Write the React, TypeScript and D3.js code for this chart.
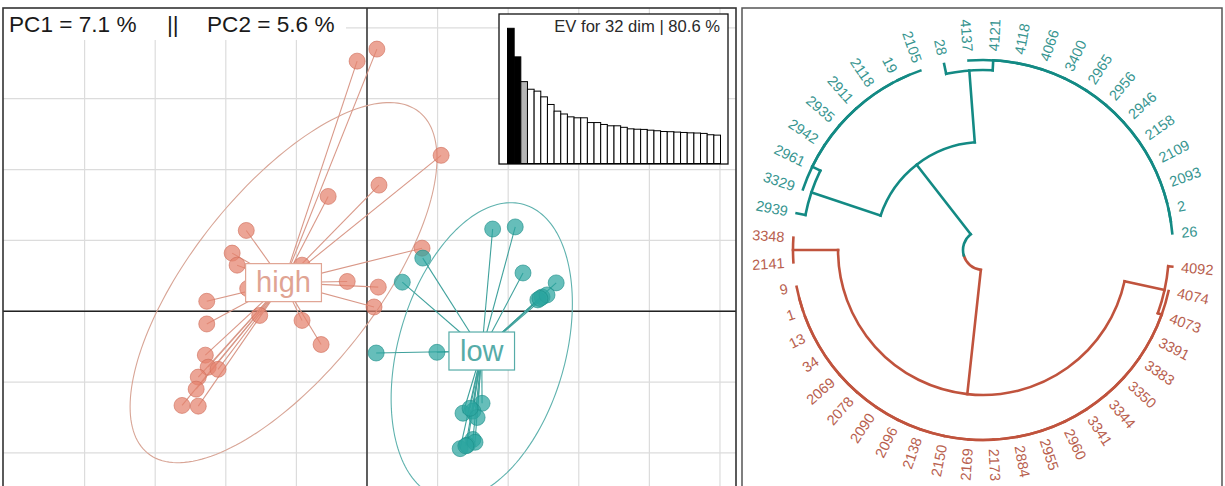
import React, { useEffect, useRef } from "react";
import * as d3 from "d3";

// ---- PCA scores (PC1, PC2) per group
const highX = [-0.14, 0.14, 1.05, 0.17, -0.55, -1.71, -1.91, -1.84, -0.92, -0.28, -1.69, -2.27, -2.27, -1.52, -0.92, -0.65, -2.29, -2.25, -2.11, -2.39, -2.42, -2.62, -2.39, 0.78, 0.16, 0.1];
const highY = [3.53, 3.7, 2.2, 1.78, 1.62, 1.14, 0.82, 0.65, 0.65, 0.42, 0.32, 0.14, -0.18, -0.06, -0.13, -0.47, -0.62, -0.79, -0.82, -0.93, -1.1, -1.33, -1.34, 0.89, 0.34, 0.06];
const lowX = [1.78, 2.1, 0.79, 0.5, 2.21, 2.68, 2.48, 2.42, 2.55, 0.13, 0.99, 1.63, 1.36, 1.5, 1.56, 1.5, 1.32, 1.42, 1.53, 1.46, 1.4, 2.45];
const lowY = [1.16, 1.19, 0.75, 0.41, 0.54, 0.4, 0.2, 0.16, 0.23, -0.59, -0.58, -1.3, -1.44, -1.41, -1.5, -1.81, -1.94, -1.89, -1.85, -1.37, -1.9, 0.18];
const groupNames = ["high", "low"];

// eigenvalues in % (screeplot inset)
const eigenPct = [7.1, 5.6, 4.3, 3.9, 3.8, 3.5, 3.1, 2.75, 2.6, 2.45, 2.4, 2.4, 2.15, 2.15, 2.05, 1.98, 1.98, 1.9, 1.82, 1.8, 1.79, 1.75, 1.72, 1.68, 1.67, 1.65, 1.63, 1.61, 1.6, 1.58, 1.51, 1.49];
const pcTitle = ["PC1 = 7.1 %", "||", "PC2 = 5.6 %"];
const evTitle = "EV for 32 dim | 80.6 %";

// ---- dendrogram leaves, clockwise starting just below 3 o'clock
const redTip = "4092";
const redChain = ["4074", "4073", "3391", "3383", "3350", "3344", "3341", "2960", "2955", "2884", "2173", "2169", "2150", "2138", "2096", "2090", "2078", "2069", "34", "13", "1", "9"];
const redPair = ["2141", "3348"];
const tealTip = "2939";
const tealChainA = ["3329", "2961", "2942", "2935", "2911", "2118", "19", "2105"];
const tealTip2 = "28";
const tealChainB = ["4137", "4121", "4118", "4066", "3400", "2965", "2956", "2946", "2158", "2109", "2093", "2", "26"];
// merge heights
const hRoot = 1;
const hRed = 0.265;
const hTeal = 0.482;
const hTealA = 0.053;
const hTealB = 0.059;
const hRedTip = 0.024;

const RED = "#C0533D";
const TEAL = "#138A84";
const FONT = "'Liberation Sans', Arial, sans-serif";

type TNode = { name?: string; h: number; children?: TNode[]; x?: number; group?: string };

const leaf = (name: string): TNode => ({ name, h: 0 });
const join = (h: number, a: TNode, b: TNode): TNode => ({ h, children: [a, b] });
const ladder = (names: string[]): TNode =>
  names.length === 1 ? leaf(names[0]) : join(0, leaf(names[0]), ladder(names.slice(1)));

function drawScatter(svg: any) {
  const x = d3.scaleLinear().domain([-5.156, 5.227]).range([3, 736]);
  const y = d3.scaleLinear().domain([4.28, -3.06]).range([8, 528]);
  const [x0, x1] = x.range();
  const [y0, y1] = y.range();

  svg.append("clipPath").attr("id", "pclip")
    .append("rect").attr("x", x0).attr("y", y0).attr("width", x1 - x0).attr("height", y1 - y0);
  const g = svg.append("g").attr("clip-path", "url(#pclip)");

  g.append("rect").attr("x", x0).attr("y", y0).attr("width", x1 - x0).attr("height", y1 - y0).attr("fill", "#fff");

  // grid
  g.selectAll(".vg").data(d3.range(-4, 6)).enter().append("line")
    .attr("x1", (d: number) => x(d)).attr("x2", (d: number) => x(d))
    .attr("y1", y0).attr("y2", y1)
    .attr("stroke", "#dcdcdc").attr("stroke-width", 1.2);
  g.selectAll(".hg").data(d3.range(-3, 5)).enter().append("line")
    .attr("y1", (d: number) => y(d)).attr("y2", (d: number) => y(d))
    .attr("x1", x0).attr("x2", x1)
    .attr("stroke", "#dcdcdc").attr("stroke-width", 1.2);

  // axes through origin
  g.append("line").attr("x1", x(0)).attr("x2", x(0)).attr("y1", y0).attr("y2", y1).attr("stroke", "#222").attr("stroke-width", 1.4);
  g.append("line").attr("y1", y(0)).attr("y2", y(0)).attr("x1", x0).attr("x2", x1).attr("stroke", "#222").attr("stroke-width", 1.4);

  const groups = [
    { name: groupNames[0], xs: highX, ys: highY, fill: "#E4826E", stroke: "#CF6B57", line: "#D99888", ell: "#D8A596", lab: "#E0A493" },
    { name: groupNames[1], xs: lowX, ys: lowY, fill: "#2BA59F", stroke: "#1C8E88", line: "#3FA19C", ell: "#5FB2AE", lab: "#56ACA8" },
  ];

  const cellipse = 1.95;
  groups.forEach((gr) => {
    const n = gr.xs.length;
    const mx = d3.mean(gr.xs) as number;
    const my = d3.mean(gr.ys) as number;
    const vx = d3.sum(gr.xs, (v: number) => (v - mx) ** 2) / n;
    const vy = d3.sum(gr.ys, (v: number) => (v - my) ** 2) / n;
    const cxy = d3.sum(gr.xs.map((v, i) => (v - mx) * (gr.ys[i] - my))) / n;
    const tr = vx + vy;
    const det = vx * vy - cxy * cxy;
    const disc = Math.sqrt(Math.max(tr * tr / 4 - det, 0));
    const l1 = tr / 2 + disc;
    const l2 = Math.max(tr / 2 - disc, 0);
    let ux = cxy, uy = l1 - vx;
    if (Math.abs(ux) + Math.abs(uy) < 1e-9) { ux = 1; uy = 0; }
    const un = Math.hypot(ux, uy);
    ux /= un; uy /= un;
    const ts = d3.range(0, 2 * Math.PI, Math.PI / 90);
    const pts = ts.map((t) => {
      const a = cellipse * Math.sqrt(l1) * Math.cos(t);
      const b = cellipse * Math.sqrt(l2) * Math.sin(t);
      return [x(mx + a * ux - b * uy), y(my + a * uy + b * ux)] as [number, number];
    });
    g.append("path").attr("d", d3.line().curve(d3.curveLinearClosed)(pts))
      .attr("fill", "none").attr("stroke", gr.ell).attr("stroke-width", 1.1);

    (gr as any).cx = mx;
    (gr as any).cy = my;
  });

  groups.forEach((gr: any) => {
    g.selectAll(null).data(gr.xs).enter().append("line")
      .attr("x1", x(gr.cx)).attr("y1", y(gr.cy))
      .attr("x2", (d: number) => x(d)).attr("y2", (_: number, i: number) => y(gr.ys[i]))
      .attr("stroke", gr.line).attr("stroke-width", 1.1);
  });

  groups.forEach((gr: any) => {
    g.selectAll(null).data(gr.xs).enter().append("circle")
      .attr("cx", (d: number) => x(d)).attr("cy", (_: number, i: number) => y(gr.ys[i]))
      .attr("r", 8)
      .attr("fill", gr.fill).attr("fill-opacity", 0.72)
      .attr("stroke", gr.stroke).attr("stroke-opacity", 0.6).attr("stroke-width", 1);
  });

  groups.forEach((gr: any) => {
    const lg = g.append("g").attr("transform", `translate(${x(gr.cx)},${y(gr.cy)})`);
    const t = lg.append("text").text(gr.name)
      .attr("text-anchor", "middle").attr("dy", "0.33em")
      .attr("font-family", FONT).attr("font-size", 29).attr("fill", gr.lab);
    const bb = (t.node() as SVGTextElement).getBBox();
    lg.insert("rect", "text")
      .attr("x", -bb.width / 2 - 10.5).attr("y", -19)
      .attr("width", bb.width + 21).attr("height", 38)
      .attr("fill", "#fff").attr("stroke", gr.lab).attr("stroke-width", 1.2);
  });

  // title box
  svg.append("rect").attr("x", x0).attr("y", y0).attr("width", 343).attr("height", 32).attr("fill", "#fff");
  const titleX = [9, 167, 207];
  svg.selectAll(".pct").data(pcTitle).enter().append("text")
    .attr("x", (_: string, i: number) => titleX[i]).attr("y", 32)
    .attr("font-family", FONT).attr("font-size", 22.6).attr("fill", "#1a1a1a")
    .text((d: string) => d);

  // screeplot inset
  const ib = { x0: 499, x1: 728, y0: 14, y1: 164 };
  svg.append("rect").attr("x", ib.x0).attr("y", ib.y0).attr("width", ib.x1 - ib.x0).attr("height", ib.y1 - ib.y0)
    .attr("fill", "#fff").attr("stroke", "#111").attr("stroke-width", 1.3);
  const xb = d3.scaleBand<number>().domain(d3.range(eigenPct.length)).range([507.5, 720.5]).padding(0);
  const yb = d3.scaleLinear().domain([0, d3.max(eigenPct) as number]).range([163.5, 28.3]);
  svg.selectAll(".bar").data(eigenPct).enter().append("rect")
    .attr("x", (_: number, i: number) => xb(i) as number)
    .attr("width", xb.bandwidth())
    .attr("y", (d: number) => yb(d))
    .attr("height", (d: number) => yb(0) - yb(d))
    .attr("fill", (_: number, i: number) => (i < 2 ? "#000" : i < 3 ? "#b5b5b5" : "#fff"))
    .attr("stroke", "#000").attr("stroke-width", 1);
  svg.append("text").attr("x", 720).attr("y", 31.5).attr("text-anchor", "end")
    .attr("font-family", FONT).attr("font-size", 16.6).attr("fill", "#2a2a2a").text(evTitle);

  svg.append("rect").attr("x", x0).attr("y", y0).attr("width", x1 - x0).attr("height", y1 - y0)
    .attr("fill", "none").attr("stroke", "#333").attr("stroke-width", 1.6);
}

function drawDendro(svg: any) {
  const cx = 983, cy = 250;
  const red = join(hRed, join(hRedTip, leaf(redTip), ladder(redChain)), join(0, leaf(redPair[0]), leaf(redPair[1])));
  const teal = join(hTeal, join(hTealA, leaf(tealTip), ladder(tealChainA)), join(hTealB, leaf(tealTip2), ladder(tealChainB)));
  red.group = RED;
  teal.group = TEAL;
  const root = join(hRoot, red, teal);

  const leaves: TNode[] = [];
  const layout = (nd: TNode, group?: string) => {
    if (group) nd.group = group;
    if (!nd.children) { nd.x = leaves.length; leaves.push(nd); return; }
    nd.children.forEach((c) => layout(c, nd.group));
    nd.x = d3.mean(nd.children, (c) => c.x) as number;
  };
  layout(root);

  const theta = d3.scaleLinear().domain([0, leaves.length - 1]).range([95, 445]);
  const rad = d3.scaleLinear().domain([0, hRoot]).range([190, 20]);
  const pt = (r: number, deg: number) => {
    const a = (deg * Math.PI) / 180;
    return [cx + r * Math.sin(a), cy - r * Math.cos(a)];
  };
  const arcPath = (r: number, d0: number, d1: number) => {
    const p = d3.path();
    const a0 = ((d0 - 90) * Math.PI) / 180;
    const a1 = ((d1 - 90) * Math.PI) / 180;
    p.moveTo(cx + r * Math.cos(a0), cy + r * Math.sin(a0));
    p.arc(cx, cy, r, a0, a1, a1 < a0);
    return p.toString();
  };

  const g = svg.append("g").attr("fill", "none").attr("stroke-width", 2.6).attr("stroke-linecap", "square");
  const walk = (nd: TNode) => {
    if (!nd.children) return;
    const r = rad(nd.h);
    const [c0, c1] = nd.children;
    if (nd === root) {
      g.append("path").attr("d", arcPath(r, theta(c0.x!), theta(nd.x!))).attr("stroke", c0.group);
      g.append("path").attr("d", arcPath(r, theta(nd.x!), theta(c1.x!))).attr("stroke", c1.group);
    } else {
      g.append("path").attr("d", arcPath(r, theta(c0.x!), theta(c1.x!))).attr("stroke", nd.group);
    }
    nd.children.forEach((c) => {
      const rc = rad(c.h);
      if (Math.abs(rc - r) > 0.01) {
        const p0 = pt(r, theta(c.x!));
        const p1 = pt(rc, theta(c.x!));
        g.append("line").attr("x1", p0[0]).attr("y1", p0[1]).attr("x2", p1[0]).attr("y2", p1[1]).attr("stroke", c.group);
      }
      walk(c);
    });
  };
  walk(root);

  const labelR = 199;
  svg.selectAll(".leaf").data(leaves).enter().append("text")
    .attr("transform", (d: TNode) => {
      const t = theta(d.x!) % 360;
      const [px, py] = pt(labelR, t);
      const rot = t < 180 ? t - 90 : t - 270;
      return `translate(${px},${py}) rotate(${rot})`;
    })
    .attr("text-anchor", (d: TNode) => (theta(d.x!) % 360 < 180 ? "start" : "end"))
    .attr("dy", "0.35em")
    .attr("font-family", FONT).attr("font-size", 14.5)
    .attr("fill", (d: TNode) => (d.group === RED ? "#B8604E" : "#379590"))
    .text((d: TNode) => d.name);

  svg.append("rect").attr("x", 742).attr("y", 8).attr("width", 480).attr("height", 520)
    .attr("fill", "none").attr("stroke", "#555").attr("stroke-width", 1.5);
}

export default function App() {
  const ref = useRef<SVGSVGElement>(null);
  useEffect(() => {
    const svg = d3.select(ref.current);
    svg.selectAll("*").remove();
    svg.append("rect").attr("width", 1225).attr("height", 486).attr("fill", "#fff");
    drawScatter(svg);
    drawDendro(svg);
  }, []);
  return <svg ref={ref} width={1225} height={486} style={{ position: "absolute", left: 0, top: 0 }} />;
}
